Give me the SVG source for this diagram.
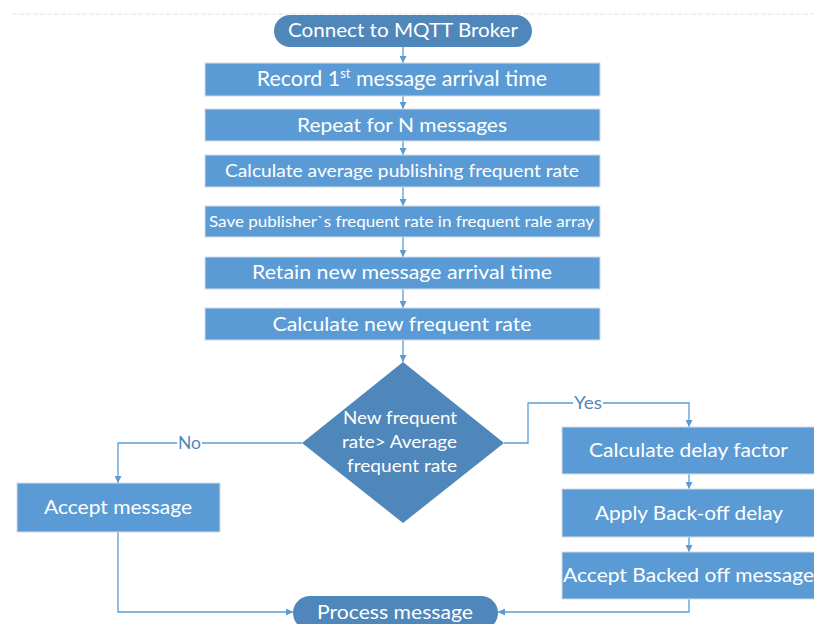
<svg xmlns="http://www.w3.org/2000/svg" width="814" height="624" viewBox="0 0 814 624">
  <defs>
    <marker id="arrow" viewBox="0 0 10 10" refX="10" refY="5" markerWidth="7" markerHeight="7" markerUnits="userSpaceOnUse" orient="auto">
      <path d="M0,0 L10,5 L0,10 z" fill="#5b9bd5"/>
    </marker>
    <style>
      .box { fill: #5b9bd5; stroke: #d3dbe4; stroke-width: 1; }
      .term { fill: #4f87bb; }
      .txt { font-family: Lato, "Open Sans", "Liberation Sans", sans-serif; fill: #ffffff; text-anchor: middle; }
      .lbl { font-family: Lato, "Open Sans", "Liberation Sans", sans-serif; fill: #4f87bb; text-anchor: middle; font-size: 18px; }
      .conn { fill: none; stroke: #5b9bd5; stroke-width: 1.3; }
    </style>
  </defs>

  <rect width="814" height="624" fill="#ffffff"/>
  <line x1="12" y1="14" x2="814" y2="14" stroke="#e4e4e4" stroke-width="1.2" stroke-dasharray="5 2"/>

  <!-- connectors -->
  <g id="connectors">
    <path class="conn" marker-end="url(#arrow)" d="M403,47 V63"/>
    <path class="conn" marker-end="url(#arrow)" d="M403,96 V109"/>
    <path class="conn" marker-end="url(#arrow)" d="M403,141 V155"/>
    <path class="conn" marker-end="url(#arrow)" d="M403,187 V206"/>
    <path class="conn" marker-end="url(#arrow)" d="M403,237 V257"/>
    <path class="conn" marker-end="url(#arrow)" d="M403,289 V308"/>
    <path class="conn" marker-end="url(#arrow)" d="M403,340 V362"/>
    <!-- yes branch -->
    <path class="conn" d="M504,443 H528 V403 H573"/>
    <path class="conn" marker-end="url(#arrow)" d="M603,403 H689 V427"/>
    <text class="lbl" x="588" y="409" textLength="28" lengthAdjust="spacingAndGlyphs">Yes</text>
    <path class="conn" marker-end="url(#arrow)" d="M689,474 V489"/>
    <path class="conn" marker-end="url(#arrow)" d="M689,537 V552"/>
    <path class="conn" marker-end="url(#arrow)" d="M689,599 V612 H498"/>
    <!-- no branch -->
    <path class="conn" d="M302,443 H202"/>
    <path class="conn" marker-end="url(#arrow)" d="M177,443 H118 V483"/>
    <text class="lbl" x="189.5" y="449" textLength="23" lengthAdjust="spacingAndGlyphs">No</text>
    <path class="conn" marker-end="url(#arrow)" d="M118,532 V612 H293"/>
  </g>

  <g id="connect-broker">
    <rect class="term" x="274" y="15" width="258" height="32" rx="16"/>
    <text class="txt" x="403" y="37" font-size="20" textLength="230" lengthAdjust="spacingAndGlyphs">Connect to MQTT Broker</text>
  </g>

  <g id="record-first">
    <rect class="box" x="205" y="63" width="395" height="33"/>
    <text class="txt" x="402" y="86" font-size="21.4">Record 1<tspan font-size="13" dy="-8">st</tspan><tspan dy="8"> message arrival time</tspan></text>
  </g>

  <g id="repeat-n">
    <rect class="box" x="205" y="109" width="395" height="32"/>
    <text class="txt" x="402" y="132" font-size="20" textLength="210" lengthAdjust="spacingAndGlyphs">Repeat for N messages</text>
  </g>

  <g id="calc-average">
    <rect class="box" x="205" y="155" width="395" height="32"/>
    <text class="txt" x="402" y="177" font-size="18" textLength="354" lengthAdjust="spacingAndGlyphs">Calculate average publishing frequent rate</text>
  </g>

  <g id="save-rate">
    <rect class="box" x="205" y="206" width="395" height="31"/>
    <text class="txt" x="401.5" y="227" font-size="16" textLength="385" lengthAdjust="spacingAndGlyphs">Save publisher`s frequent rate in frequent rale array</text>
  </g>

  <g id="retain-time">
    <rect class="box" x="205" y="257" width="395" height="32"/>
    <text class="txt" x="402" y="279" font-size="20" textLength="300" lengthAdjust="spacingAndGlyphs">Retain new message arrival time</text>
  </g>

  <g id="calc-new">
    <rect class="box" x="205" y="308" width="395" height="32"/>
    <text class="txt" x="402" y="331" font-size="20" textLength="259" lengthAdjust="spacingAndGlyphs">Calculate new frequent rate</text>
  </g>

  <g id="decision">
    <polygon class="term" points="403,362 504,443 403,523 302,443"/>
    <text class="txt" x="400" y="424" font-size="17" textLength="114" lengthAdjust="spacingAndGlyphs">New frequent</text>
    <text class="txt" x="399.5" y="448" font-size="17" textLength="115" lengthAdjust="spacingAndGlyphs">rate&gt; Average</text>
    <text class="txt" x="402" y="472" font-size="17" textLength="110" lengthAdjust="spacingAndGlyphs">frequent rate</text>
  </g>

  <g id="accept-message">
    <rect class="box" x="17" y="483" width="203" height="49"/>
    <text class="txt" x="118" y="514" font-size="20" textLength="148" lengthAdjust="spacingAndGlyphs">Accept message</text>
  </g>

  <g id="calc-delay">
    <rect class="box" x="562" y="427" width="254" height="47"/>
    <text class="txt" x="688.5" y="457" font-size="20" textLength="199" lengthAdjust="spacingAndGlyphs">Calculate delay factor</text>
  </g>

  <g id="apply-backoff">
    <rect class="box" x="562" y="489" width="254" height="48"/>
    <text class="txt" x="689" y="520" font-size="20" textLength="188" lengthAdjust="spacingAndGlyphs">Apply Back-off delay</text>
  </g>

  <g id="accept-backed">
    <rect class="box" x="562" y="552" width="254" height="47"/>
    <text class="txt" x="688.5" y="582" font-size="20" textLength="251" lengthAdjust="spacingAndGlyphs">Accept Backed off message</text>
  </g>

  <g id="process-message">
    <rect class="term" x="293" y="596" width="205" height="34" rx="17"/>
    <text class="txt" x="395" y="619" font-size="20" textLength="156" lengthAdjust="spacingAndGlyphs">Process message</text>
  </g>
</svg>
